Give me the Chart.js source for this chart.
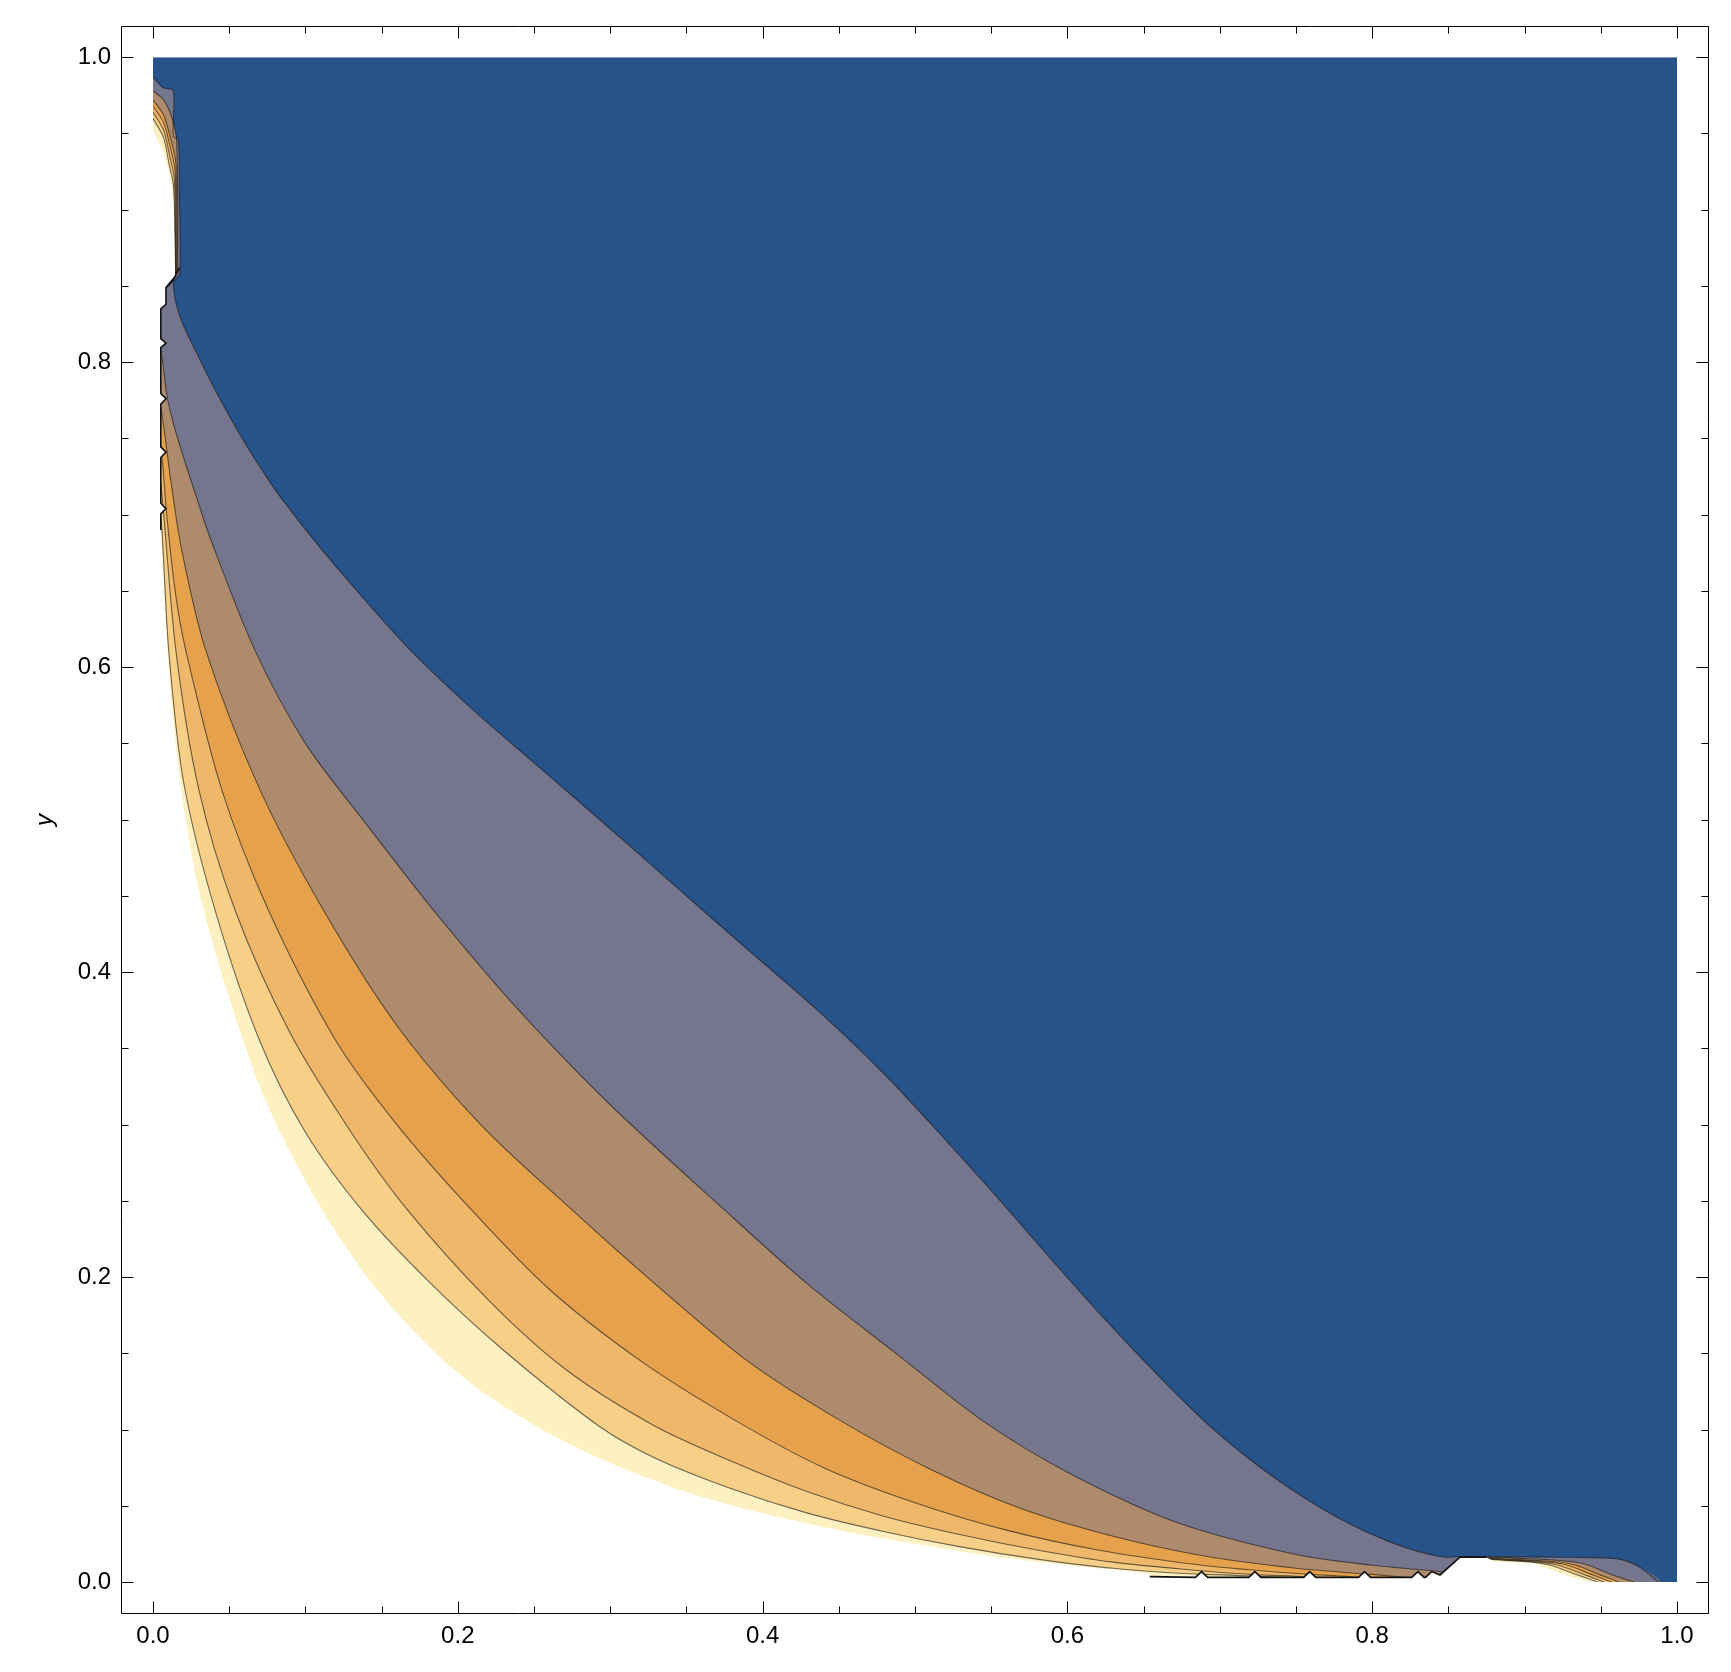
<!DOCTYPE html>
<html>
<head>
<meta charset="utf-8">
<script src="https://cdn.jsdelivr.net/npm/chart.js@4.4.1/dist/chart.umd.min.js"></script>
<style>
  html, body { margin: 0; padding: 0; background: #fff; }
  #wrap { width: 1731px; height: 1672px; }
</style>
</head>
<body>
<div id="wrap"><canvas id="contorno"></canvas></div>
<script>
// eixos
const majorTicks = [0, 0.2, 0.4, 0.6, 0.8, 1.0];
const minorTicks = [0.05, 0.1, 0.15, 0.25, 0.3, 0.35, 0.45, 0.5, 0.55, 0.65, 0.7, 0.75, 0.85, 0.9, 0.95];
const xRange = [-0.021, 1.021];
const yRange = [-0.021, 1.0205];

// cores das faixas, da mais alta (clara) para a mais baixa (azul)
const bandColors = ['#FEF1C1', '#F7CF87', '#EFB76A', '#E5A14B', '#AD8B6C', '#75768E', '#26548A'];

// curvas de nivel (c0 = borda branca, c6 = borda do azul)
const c0X = [0.0051, 0.0057, 0.0075, 0.011, 0.016, 0.022, 0.0308, 0.05, 0.075, 0.111, 0.15, 0.2, 0.25, 0.3, 0.35, 0.4, 0.45, 0.5, 0.55, 0.6, 0.654];
const c0Y = [0.69, 0.68, 0.645, 0.59, 0.54, 0.497, 0.45, 0.383, 0.313, 0.244, 0.188, 0.137, 0.103, 0.078, 0.059, 0.045, 0.034, 0.025, 0.017, 0.011, 0.005];
const c1X = [0.0051, 0.0103, 0.02, 0.0407, 0.07, 0.1, 0.137, 0.18, 0.23, 0.293, 0.33, 0.38, 0.43, 0.48, 0.53, 0.58, 0.63, 0.69];
const c1Y = [0.70, 0.611, 0.525, 0.4407, 0.355, 0.295, 0.244, 0.198, 0.152, 0.102, 0.081, 0.061, 0.045, 0.033, 0.023, 0.015, 0.009, 0.005];
const c2X = [0.0051, 0.015, 0.03, 0.0538, 0.09, 0.13, 0.167, 0.22, 0.27, 0.328, 0.38, 0.43, 0.48, 0.53, 0.58, 0.63, 0.68, 0.72];
const c2Y = [0.72, 0.611, 0.52, 0.4407, 0.36, 0.295, 0.244, 0.185, 0.14, 0.103, 0.079, 0.059, 0.043, 0.031, 0.021, 0.013, 0.008, 0.005];
const c3X = [0.0051, 0.009, 0.0145, 0.0215, 0.045, 0.0757, 0.12, 0.16, 0.209, 0.26, 0.32, 0.382, 0.44, 0.5, 0.56, 0.62, 0.68, 0.72, 0.76];
const c3Y = [0.745, 0.70, 0.65, 0.611, 0.52, 0.4407, 0.355, 0.30, 0.244, 0.192, 0.145, 0.106, 0.075, 0.052, 0.034, 0.021, 0.012, 0.008, 0.005];
const c4X = [0.0051, 0.012, 0.0188, 0.0346, 0.07, 0.1118, 0.16, 0.215, 0.275, 0.33, 0.39, 0.4507, 0.51, 0.57, 0.63, 0.69, 0.75, 0.80];
const c4Y = [0.77, 0.72, 0.677, 0.611, 0.52, 0.4407, 0.365, 0.30, 0.244, 0.195, 0.145, 0.106, 0.074, 0.048, 0.03, 0.017, 0.009, 0.005];
const c5X = [0.0051, 0.009, 0.0133, 0.0199, 0.0287, 0.0374, 0.0669, 0.1, 0.14, 0.184, 0.24, 0.3, 0.375, 0.43, 0.49, 0.544, 0.6, 0.672, 0.75, 0.8, 0.85];
const c5Y = [0.808, 0.779, 0.760, 0.738, 0.711, 0.685, 0.611, 0.55, 0.497, 0.4407, 0.375, 0.313, 0.244, 0.195, 0.148, 0.106, 0.072, 0.039, 0.018, 0.011, 0.006];
const c6X = [0.0133, 0.0177, 0.0287, 0.0396, 0.0505, 0.0615, 0.0724, 0.0833, 0.11, 0.14, 0.171, 0.21, 0.255, 0.30, 0.342, 0.39, 0.436, 0.48, 0.52, 0.556, 0.59, 0.624, 0.66, 0.696, 0.735, 0.776, 0.815, 0.845, 0.857];
const c6Y = [0.852, 0.830, 0.806, 0.784, 0.764, 0.745, 0.728, 0.712, 0.678, 0.643, 0.609, 0.572, 0.533, 0.494, 0.457, 0.415, 0.375, 0.333, 0.29, 0.25, 0.211, 0.173, 0.135, 0.100, 0.069, 0.043, 0.025, 0.0165, 0.0165];

// pedacos junto a borda esquerda (topo) e ao canto inferior direito
const start1 = [[0, 0.960], [0.007, 0.947], [0.0105, 0.93], [0.0135, 0.915], [0.0146, 0.862], [0.0144, 0.856], [0.0085, 0.849], [0.003, 0.849], [0.003, 0.70]];
const start2 = [[0, 0.964], [0.007, 0.952], [0.011, 0.935], [0.014, 0.92], [0.0148, 0.862], [0.0144, 0.856], [0.0085, 0.849], [0.003, 0.849], [0.003, 0.72]];
const start3 = [[0, 0.968], [0.007, 0.957], [0.0115, 0.94], [0.0145, 0.925], [0.015, 0.862], [0.0144, 0.856], [0.0085, 0.849], [0.003, 0.849], [0.003, 0.745]];
const start4 = [[0, 0.972], [0.007, 0.962], [0.012, 0.945], [0.015, 0.93], [0.0155, 0.862], [0.0144, 0.856], [0.0085, 0.849], [0.003, 0.849], [0.003, 0.77]];
const start5 = [[0, 0.978], [0.007, 0.972], [0.0125, 0.96], [0.0155, 0.945], [0.016, 0.862], [0.0144, 0.856], [0.0085, 0.849], [0.003, 0.849], [0.003, 0.808]];
const start6 = [[0, 0.987], [0.0068, 0.980], [0.0133, 0.978], [0.0133, 0.948], [0.0166, 0.946], [0.0173, 0.911], [0.0175, 0.858]];

const end1 = [[0.862, 0.0015], [0.862, 0.0138], [0.89, 0.0140], [0.915, 0.0115], [0.935, 0.0045], [0.948, 0]];
const end2 = [[0.862, 0.0015], [0.862, 0.0141], [0.89, 0.0143], [0.92, 0.0115], [0.94, 0.0045], [0.952, 0]];
const end3 = [[0.862, 0.0015], [0.862, 0.0144], [0.89, 0.0146], [0.925, 0.0118], [0.945, 0.0045], [0.957, 0]];
const end4 = [[0.862, 0.0015], [0.862, 0.0147], [0.89, 0.0149], [0.93, 0.0120], [0.95, 0.0045], [0.962, 0]];
const end5 = [[0.862, 0.0015], [0.862, 0.0150], [0.90, 0.0153], [0.937, 0.0125], [0.958, 0.0045], [0.972, 0]];
const end6 = [[0.93, 0.0162], [0.962, 0.0150], [0.975, 0.010], [0.988, 0]];

// regiao branca (fora do intervalo) e suas bordas pretas serrilhadas
const whiteStart = [[0, 0.952], [0.006, 0.94], [0.0105, 0.925], [0.0133, 0.906], [0.0144, 0.862]];
const jaggedLeft = [[0.0173, 0.862], [0.0144, 0.856], [0.0085, 0.849], [0.0085, 0.838], [0.0051, 0.835], [0.0051, 0.8155], [0.0085, 0.8125], [0.0051, 0.8095], [0.0051, 0.7795], [0.0085, 0.776], [0.0051, 0.7725], [0.0051, 0.7445], [0.0085, 0.741], [0.0051, 0.7375], [0.0051, 0.7075], [0.0085, 0.704], [0.0051, 0.7005], [0.0051, 0.69]];
const jaggedBottom = [[0.654, 0.0035], [0.684, 0.003], [0.688, 0.0068], [0.692, 0.003], [0.719, 0.003], [0.723, 0.0068], [0.727, 0.003], [0.755, 0.003], [0.759, 0.0068], [0.763, 0.003], [0.791, 0.003], [0.795, 0.0068], [0.799, 0.003], [0.826, 0.003], [0.830, 0.0068], [0.834, 0.003], [0.835, 0.003], [0.839, 0.0068], [0.8445, 0.0046], [0.8576, 0.0163], [0.875, 0.0163]];
const whiteEnd = [[0.88, 0.0135], [0.905, 0.0125], [0.93, 0.0035], [0.944, 0]];

const FONT = "'Liberation Sans', Arial, sans-serif";
const SUAVE = 0.3;

function pts(xs, ys) { return xs.map(function (x, i) { return { x: x, y: ys[i] }; }); }
function pares(arr) { return arr.map(function (p) { return { x: p[0], y: p[1] }; }); }

function faixa(pontos, cor, ordem, tensao) {
  return { data: pontos, showLine: true, fill: 'shape', backgroundColor: cor, tension: tensao,
    borderColor: 'transparent', borderWidth: 0, pointRadius: 0, pointHoverRadius: 0, order: ordem };
}
function linha(pontos, cor, largura, ordem, tensao) {
  return { data: pontos, showLine: true, fill: false, borderColor: cor, borderWidth: largura, tension: tensao,
    pointRadius: 0, pointHoverRadius: 0, order: ordem };
}

const niveis = [
  { start: start1, curva: pts(c1X, c1Y), end: end1 },
  { start: start2, curva: pts(c2X, c2Y), end: end2 },
  { start: start3, curva: pts(c3X, c3Y), end: end3 },
  { start: start4, curva: pts(c4X, c4Y), end: end4 },
  { start: start5, curva: pts(c5X, c5Y), end: end5 },
  { start: start6, curva: pts(c6X, c6Y), end: end6 }
];

const datasets = [];
// fundo azul (valores mais baixos)
datasets.push(faixa(pares([[0, 0], [0, 1], [1, 1], [1, 0]]), bandColors[6], 100, 0));
// faixas: cada uma cobre a area abaixo da sua curva
niveis.forEach(function (n, i) {
  const contorno = pares(n.start).concat(n.curva, pares(n.end));
  datasets.push(faixa(contorno.concat([{ x: 0.5, y: 0 }, { x: 0, y: 0 }]), bandColors[i], 90 + i, SUAVE));
  datasets.push(linha(contorno, 'rgba(25,25,25,0.62)', 1.1, 50, SUAVE));
});
// regiao branca por cima: parte suave abaixo de c0 e os dois pedacos serrilhados
datasets.push(faixa(pts(c0X, c0Y).concat(pares([[0.654, 0], [0.3, 0], [0, 0], [0, 0.69]])), '#FFFFFF', 22, SUAVE));
datasets.push(faixa(pares(whiteStart.concat(jaggedLeft.slice(1), [[0.0051, 0.68], [0, 0.68]])), '#FFFFFF', 21, 0));
datasets.push(faixa(pares(jaggedBottom.concat(whiteEnd, [[0.654, 0]])), '#FFFFFF', 20, 0));
datasets.push(linha(pares(jaggedLeft), '#111111', 1.6, 10, 0));
datasets.push(linha(pares(jaggedBottom), '#111111', 1.6, 10, 0));

// recorta o desenho no quadrado [0,1] x [0,1]
const recorte = {
  id: 'recorte',
  beforeDatasetsDraw: function (chart) {
    const sx = chart.scales.x, sy = chart.scales.y;
    const l = sx.getPixelForValue(0), r = sx.getPixelForValue(1);
    const t = sy.getPixelForValue(1), b = sy.getPixelForValue(0);
    chart.ctx.save();
    chart.ctx.beginPath();
    chart.ctx.rect(l, t, r - l, b - t);
    chart.ctx.clip();
  },
  afterDatasetsDraw: function (chart) { chart.ctx.restore(); }
};

const moldura = {
  id: 'moldura',
  afterDraw: function (chart) {
    const ctx = chart.ctx;
    const a = chart.chartArea;
    const sx = chart.scales.x;
    const sy = chart.scales.y;
    const L = Math.round(a.left) + 0.5, R = Math.round(a.right) - 0.5;
    const T = Math.round(a.top) + 0.5, B = Math.round(a.bottom) - 0.5;
    ctx.save();
    ctx.strokeStyle = '#000';
    ctx.lineWidth = 1;
    ctx.beginPath();
    ctx.rect(L, T, R - L, B - T);
    function marcas(valores, tam) {
      valores.forEach(function (v) {
        const px = Math.round(sx.getPixelForValue(v)) + 0.5;
        ctx.moveTo(px, B); ctx.lineTo(px, B - tam);
        ctx.moveTo(px, T); ctx.lineTo(px, T + tam);
        const py = Math.round(sy.getPixelForValue(v)) + 0.5;
        ctx.moveTo(L, py); ctx.lineTo(L + tam, py);
        ctx.moveTo(R, py); ctx.lineTo(R - tam, py);
      });
    }
    marcas(majorTicks, 12);
    marcas(minorTicks, 7);
    ctx.stroke();
    ctx.restore();
  }
};

new Chart(document.getElementById('contorno'), {
  type: 'scatter',
  data: { datasets: datasets },
  options: {
    responsive: true,
    maintainAspectRatio: false,
    animation: false,
    events: [],
    layout: { padding: { top: 26, right: 22, left: 0, bottom: 0 } },
    plugins: { legend: { display: false }, tooltip: { enabled: false } },
    elements: { point: { radius: 0 } },
    scales: {
      x: {
        type: 'linear', min: xRange[0], max: xRange[1],
        afterBuildTicks: function (s) { s.ticks = majorTicks.map(function (v) { return { value: v }; }); },
        afterFit: function (s) { s.height = 58; },
        grid: { display: false, drawTicks: false },
        border: { display: false },
        ticks: { color: '#000', padding: 8, maxRotation: 0, autoSkip: false,
          font: { family: FONT, size: 24 }, callback: function (v) { return v.toFixed(1); } }
      },
      y: {
        type: 'linear', min: yRange[0], max: yRange[1],
        afterBuildTicks: function (s) { s.ticks = majorTicks.map(function (v) { return { value: v }; }); },
        afterFit: function (s) { s.width = 121; },
        grid: { display: false, drawTicks: false },
        border: { display: false },
        title: { display: true, text: 'y', color: '#000', padding: { top: 31, bottom: 0 },
          font: { family: FONT, size: 24, style: 'italic' } },
        ticks: { color: '#000', padding: 10, autoSkip: false,
          font: { family: FONT, size: 24 }, callback: function (v) { return v.toFixed(1); } }
      }
    }
  },
  plugins: [recorte, moldura]
});
</script>
</body>
</html>
